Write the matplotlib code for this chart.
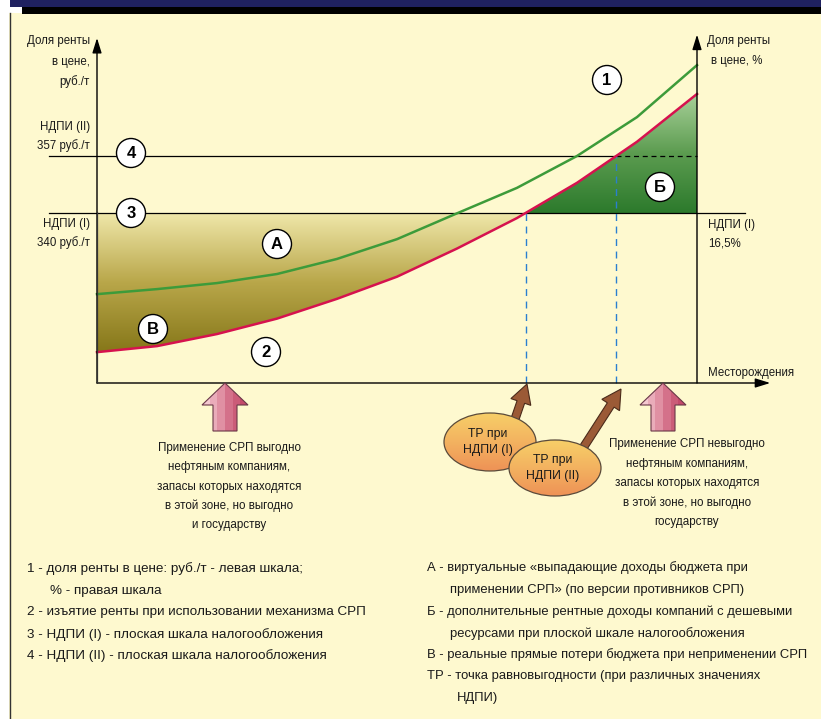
import numpy as np
import matplotlib.pyplot as plt
from matplotlib.patches import Rectangle, Circle, Ellipse, Polygon, FancyArrow
from matplotlib.colors import LinearSegmentedColormap

plt.rcParams['font.family'] = ['Liberation Sans', 'DejaVu Sans']

# schematic values
deposits = [0, 10, 20, 30, 40, 50, 60, 70, 80, 90, 100]
rent_share = [315.8, 317.3, 319.1, 321.8, 326.3, 332.2, 339.9, 347.5, 357.0, 368.6, 384.1]  # curve 1
srp_take = [298.5, 300.3, 303.9, 308.5, 314.4, 321.0, 329.4, 338.5, 349.0, 361.25, 375.5]   # curve 2
ndpi_1 = 340   # руб./т, line 3
ndpi_2 = 357   # руб./т, line 4

left_axis_text = ['Доля ренты', 'в цене,', 'руб./т']
right_axis_text = ['Доля ренты', 'в цене, %']
zone_left = ['Применение СРП выгодно', 'нефтяным компаниям,', 'запасы которых находятся',
             'в этой зоне, но выгодно', 'и государству']
zone_right = ['Применение СРП невыгодно', 'нефтяным компаниям,', 'запасы которых находятся',
              'в этой зоне, но выгодно', 'государству']
legend_left = [('1 - доля ренты в цене: руб./т - левая шкала;', 0),
               ('% - правая шкала', 23),
               ('2 - изъятие ренты при использовании механизма СРП', 0),
               ('3 - НДПИ (I) - плоская шкала налогообложения', 0),
               ('4 - НДПИ (II) - плоская шкала налогообложения', 0)]
legend_right = [('А - виртуальные «выпадающие доходы бюджета при', 0),
                ('применении СРП» (по версии противников СРП)', 23),
                ('Б - дополнительные рентные доходы компаний с дешевыми', 0),
                ('ресурсами при плоской шкале налогообложения', 23),
                ('В - реальные прямые потери бюджета при неприменении СРП', 0),
                ('ТР - точка равновыгодности (при различных значениях', 0),
                ('НДПИ)', 30)]

TXT = '#1a1a1a'
FS_AX = 8.3
FS_ZONE = 8.4
W, H = 821, 719

fig = plt.figure(figsize=(8.21, 7.19), dpi=100)

# background frame
bg = fig.add_axes([0, 0, 1, 1], zorder=0)
bg.set_xlim(0, W)
bg.set_ylim(H, 0)
bg.axis('off')
bg.add_patch(Rectangle((9, 13), W - 9, H - 13, facecolor='#fef9cf', edgecolor='none'))
bg.plot([9.5, 9.5], [13, H], color='#333333', lw=1)
bg.add_patch(Rectangle((10, 0), W - 10, 7, facecolor='#1f2160', edgecolor='none'))
bg.add_patch(Rectangle((22, 7), W - 22, 6.5, facecolor='black', edgecolor='none'))

# main chart axes
x0px, x1px, ybot, ytop = 97, 697, 383, 38
ax = fig.add_axes([x0px / W, 1 - ybot / H, (x1px - x0px) / W, (ybot - ytop) / H], zorder=1)
ax.set_facecolor('none')
ax.axis('off')
ppu = (213 - 156) / (ndpi_2 - ndpi_1)
ymin = ndpi_1 - (ybot - 213) / ppu
ymax = ndpi_2 + (156 - ytop) / ppu

tp1 = np.interp(ndpi_1, srp_take, deposits)
tp2 = np.interp(ndpi_2, srp_take, deposits)

# olive region (A + В), under line 3 and above curve 2
xa = np.r_[[d for d in deposits if d < tp1], tp1]
ya = np.interp(xa, deposits, srp_take)
poly_a = Polygon(np.c_[np.r_[xa, tp1, 0], np.r_[ya, ndpi_1, ndpi_1]], closed=True,
                 facecolor='none', edgecolor='none')
ax.add_patch(poly_a)
cm_olive = LinearSegmentedColormap.from_list('olive', ['#867719', '#b9a74a', '#f0e8ab'])
im = ax.imshow(np.linspace(0, 1, 256)[:, None], cmap=cm_olive, origin='lower', aspect='auto',
               extent=[0, tp1, min(srp_take), ndpi_1], zorder=1)
im.set_clip_path(poly_a)

# green region (Б), above line 3 and under curve 2
xb = np.r_[tp1, [d for d in deposits if d > tp1]]
yb = np.interp(xb, deposits, srp_take)
poly_b = Polygon(np.c_[np.r_[xb, 100], np.r_[yb, ndpi_1]], closed=True,
                 facecolor='none', edgecolor='none')
ax.add_patch(poly_b)
cm_green = LinearSegmentedColormap.from_list('grn', ['#2c7a2c', '#5c9c50', '#a9d19a'])
im2 = ax.imshow(np.linspace(0, 1, 256)[:, None], cmap=cm_green, origin='lower', aspect='auto',
                extent=[tp1, 100, ndpi_1, max(srp_take)], zorder=1)
im2.set_clip_path(poly_b)

# level lines
ax.plot([-8, 108], [ndpi_1, ndpi_1], color='black', lw=0.9, clip_on=False, zorder=3)
ax.plot([-8, tp2], [ndpi_2, ndpi_2], color='black', lw=0.9, clip_on=False, zorder=3)
ax.plot([tp2, 100], [ndpi_2, ndpi_2], color='black', lw=0.9, ls=(0, (4, 3)), clip_on=False, zorder=3)
ax.plot([tp1, tp1], [ymin, ndpi_1], color='#2a7fd0', lw=1, ls=(0, (5, 4)), clip_on=False, zorder=3)
ax.plot([tp2, tp2], [ymin, ndpi_2], color='#2a7fd0', lw=1, ls=(0, (5, 4)), clip_on=False, zorder=3)

# curves
ax.plot(deposits, rent_share, color='#3d9b3a', lw=1.8, clip_on=False, zorder=4)
ax.plot(deposits, srp_take, color='#d6124e', lw=1.8, clip_on=False, zorder=4)

# axes with arrows
arr = dict(arrowstyle='-|>,head_length=0.9,head_width=0.28', color='black', lw=1,
           shrinkA=0, shrinkB=0, mutation_scale=10)
ax.annotate('', xy=(0, ymax), xytext=(0, ymin), arrowprops=arr, annotation_clip=False, zorder=5)
ax.annotate('', xy=(100, ymax + 1), xytext=(100, ymin), arrowprops=arr, annotation_clip=False, zorder=5)
ax.annotate('', xy=(112.2, ymin), xytext=(0, ymin), arrowprops=arr, annotation_clip=False, zorder=5)
ax.plot([0, 0], [ymin, ndpi_1], color='#333333', lw=1.6, zorder=5)
ax.set_xlim(0, 100)
ax.set_ylim(ymin, ymax)

# overlay for labels and decorations
ov = fig.add_axes([0, 0, 1, 1], zorder=2)
ov.set_facecolor('none')
ov.axis('off')

for lab, cx, cy in [('1', 607, 80), ('4', 131, 153), ('3', 131, 213), ('А', 277, 244),
                    ('В', 153, 329), ('2', 266, 352), ('Б', 660, 187)]:
    ov.add_patch(Circle((cx, cy), 14.5, facecolor='white', edgecolor='black', lw=1, zorder=5))
    ov.text(cx, cy + 0.5, lab, ha='center', va='center', fontsize=12, fontweight='bold',
            color='black', zorder=6)

for i, s in enumerate(left_axis_text):
    ov.text(90, 41 + 20.5 * i, s, ha='right', va='center', fontsize=FS_AX, color=TXT)
ov.text(90, 127, 'НДПИ (II)', ha='right', va='center', fontsize=FS_AX, color=TXT)
ov.text(90, 146, '357 руб./т', ha='right', va='center', fontsize=FS_AX, color=TXT)
ov.text(90, 224, 'НДПИ (I)', ha='right', va='center', fontsize=FS_AX, color=TXT)
ov.text(90, 243, '340 руб./т', ha='right', va='center', fontsize=FS_AX, color=TXT)
ov.text(707, 41, right_axis_text[0], ha='left', va='center', fontsize=FS_AX, color=TXT)
ov.text(711, 61, right_axis_text[1], ha='left', va='center', fontsize=FS_AX, color=TXT)
ov.text(708, 225, 'НДПИ (I)', ha='left', va='center', fontsize=FS_AX, color=TXT)
ov.text(708, 244, '16,5%', ha='left', va='center', fontsize=FS_AX, color=TXT)
ov.text(708, 373, 'Месторождения', ha='left', va='center', fontsize=FS_AX, color=TXT)

# pink zone arrows
cm_pink = LinearSegmentedColormap.from_list('pink', ['#f4c8d0', '#e49aac', '#d06882', '#c44a6a'])
for cx in (225, 663):
    pts = [(cx, 383), (cx + 23, 405), (cx + 12, 405), (cx + 12, 431), (cx - 12, 431),
           (cx - 12, 405), (cx - 23, 405)]
    pg = Polygon(pts, closed=True, facecolor='none', edgecolor='#6a3848', lw=0.8, zorder=4)
    ov.add_patch(pg)
    gi = ov.imshow(np.linspace(0, 1, 6)[None, :], cmap=cm_pink, aspect='auto',
                   interpolation='nearest', extent=[cx - 23, cx + 23, 431, 383], zorder=3)
    gi.set_clip_path(pg)

for i, s in enumerate(zone_left):
    ov.text(229, 448 + 19.3 * i, s, ha='center', va='center', fontsize=FS_ZONE, color=TXT)
for i, s in enumerate(zone_right):
    ov.text(687, 444 + 19.6 * i, s, ha='center', va='center', fontsize=FS_ZONE, color=TXT)

# break-even ellipses and brown arrows
cm_orange = LinearSegmentedColormap.from_list('orng', ['#f7cf68', '#f3b260', '#ee9256'])
ellipses = [((490, 442, 92, 58), ((514, 422), (527, 384)), 'ТР при\nНДПИ (I)'),
            ((555, 468, 92, 56), ((583, 448), (621, 389)), 'ТР при\nНДПИ (II)')]
for k, ((ex, ey, ew, eh), (t0, t1), txt) in enumerate(ellipses):
    z = 6 + 3 * k
    dx, dy = t1[0] - t0[0], t1[1] - t0[1]
    ov.add_patch(FancyArrow(t0[0], t0[1], dx, dy, width=8, head_width=21, head_length=19,
                            length_includes_head=True, facecolor='#9b5a36', edgecolor='#4a2a1a',
                            lw=0.8, zorder=5.5))
    el = Ellipse((ex, ey), ew, eh, facecolor='none', edgecolor='#5a4a3a', lw=0.9, zorder=z + 1)
    ov.add_patch(el)
    gi = ov.imshow(np.linspace(0, 1, 128)[:, None], cmap=cm_orange, aspect='auto', origin='upper',
                   extent=[ex - ew / 2, ex + ew / 2, ey + eh / 2, ey - eh / 2], zorder=z)
    gi.set_clip_path(el)
    ov.text(ex - 2, ey, txt, ha='center', va='center', fontsize=8.8, color=TXT, linespacing=1.5,
            zorder=z + 2)

# legends
for i, (s, ind) in enumerate(legend_left):
    ov.text(27 + ind, 569 + 21.7 * i, s, ha='left', va='center', fontsize=9.7, color=TXT)
for i, (s, ind) in enumerate(legend_right):
    ov.text(427 + ind, 568 + 21.7 * i, s, ha='left', va='center', fontsize=9.4, color=TXT)

ov.set_xlim(0, W)
ov.set_ylim(H, 0)

fig.savefig('out.png', dpi=100)
